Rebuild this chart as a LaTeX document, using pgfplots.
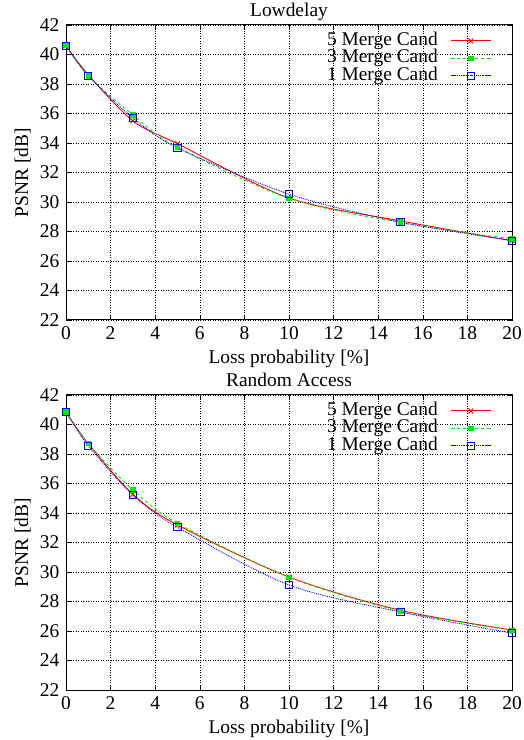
\documentclass[border=0pt]{standalone}
\usepackage{fontspec}
\setmainfont{Liberation Serif}
\usepackage{pgfplots}
\pgfplotsset{compat=1.18}
\newcommand{\ff}{\fontsize{19.5}{22}\selectfont}
\pgfplotsset{
 myax/.style={
  scale only axis, width=446bp, height=295bp,
  xmin=0, xmax=20, ymin=22, ymax=42,
  xtick={0,2,...,20}, ytick={22,24,...,42},
  grid=major, major grid style={black, line width=0.5pt, dotted},
  tick align=inside, tick pos=both, tick style={black, line width=0.6pt}, major tick length=5bp,
  axis line style={line width=1pt},
  /pgf/number format/assume math mode=true,
  tick label style={font=\ff},
  label style={font=\ff},
  title style={font=\ff, at={(0.5,1)}, anchor=base, yshift=3bp, inner sep=0pt},
  xlabel={Loss probability [\%]}, ylabel={PSNR [dB]},
  xlabel style={yshift=3bp},
  ylabel style={yshift=-4bp},
  legend cell align=right, legend plot pos=right,
  legend style={at={(1,1)}, anchor=north east, xshift=-18bp, yshift=-5bp,
    draw=none, fill=none, font=\ff, column sep=13bp, row sep=0pt,
    nodes={inner sep=0pt, text height=13bp, text depth=4.5bp}},
  legend image code/.code={\draw[mark repeat=2,mark phase=2] plot coordinates {(0cm,0cm) (0.69cm,0cm) (1.38cm,0cm)};},
 },
 s5/.style={color={rgb,255:red,255;green,0;blue,0}, solid, line width=0.9pt, mark=x, mark size=3.5bp, mark options={solid, line width=0.9pt}},
 s3/.style={color={rgb,255:red,0;green,235;blue,0}, dashed, line width=0.9pt, mark=square*, mark size=2.2bp, mark options={solid}},
 s1/.style={color={rgb,255:red,0;green,0;blue,255}, densely dotted, line width=0.9pt, mark=square, mark size=3.6bp, mark options={solid, line width=0.9pt}},
}
\begin{document}
\ff
\begin{tikzpicture}
\useasboundingbox (-66bp,-50bp) rectangle (458bp,690bp);
\begin{axis}[myax, at={(0,370bp)}, title={Lowdelay}]
\addplot[s5, smooth] coordinates {(0,40.6)(1,38.62)(3,35.5)(5,33.95)(10,30.27)(15,28.72)(20,27.38)};
\addlegendentry{5 Merge Cand}
\addplot[s3, smooth] coordinates {(0,40.6)(1,38.55)(3,35.9)(5,33.7)(10,30.25)(15,28.6)(20,27.5)};
\addlegendentry{3 Merge Cand}
\addplot[s1, smooth] coordinates {(0,40.57)(1,38.56)(3,35.7)(5,33.67)(10,30.53)(15,28.63)(20,27.38)};
\addlegendentry{1 Merge Cand}
\end{axis}
\begin{axis}[myax, at={(0,0)}, title={Random Access}]
\addplot[s5, smooth] coordinates {(0,40.85)(1,38.7)(3,35.27)(5,33.19)(10,29.66)(15,27.4)(20,26.07)};
\addlegendentry{5 Merge Cand}
\addplot[s3, smooth] coordinates {(0,40.85)(1,38.72)(3,35.56)(5,33.3)(10,29.64)(15,27.35)(20,26.05)};
\addlegendentry{3 Merge Cand}
\addplot[s1, smooth] coordinates {(0,40.83)(1,38.56)(3,35.22)(5,33.03)(10,29.12)(15,27.29)(20,25.85)};
\addlegendentry{1 Merge Cand}
\end{axis}
\end{tikzpicture}
\end{document}
